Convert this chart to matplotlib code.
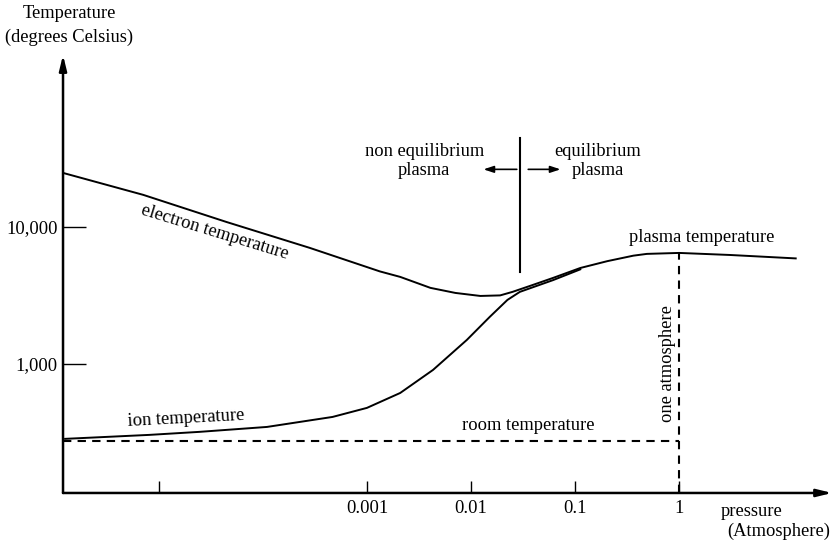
import matplotlib
matplotlib.use('Agg')
import matplotlib.pyplot as plt
import numpy as np

plt.rcParams['font.family'] = ['Liberation Serif', 'DejaVu Serif']

# curves, in log10 units (pressure in atm, temperature in deg C)
electron_logp = [-5.92, -5.15, -4.35, -3.55, -2.875, -2.68, -2.39, -2.15, -1.91, -1.72,
                 -1.60, -1.43, -1.21, -0.95, -0.69, -0.44, -0.31, 0.0, 0.49, 1.12]
electron_logt = [4.394, 4.234, 4.036, 3.847, 3.675, 3.635, 3.555, 3.518, 3.496, 3.50,
                 3.526, 3.57, 3.628, 3.70, 3.75, 3.79, 3.803, 3.81, 3.795, 3.77]
ion_logp = [-5.90, -5.09, -4.61, -3.96, -3.33, -3.0, -2.68, -2.365, -2.04, -1.82,
            -1.65, -1.53, -1.21, -0.95]
ion_logt = [2.453, 2.482, 2.504, 2.54, 2.613, 2.679, 2.788, 2.956, 3.175, 3.343,
            3.467, 3.526, 3.612, 3.69]

room_temp = 275
one_atm = 1.0
plasma_peak = 10 ** 3.81
boundary_p = 10 ** -1.53

xticks = [1e-5, 1e-3, 1e-2, 1e-1, 1]
xticklabels = ['', '0.001', '0.01', '0.1', '1']
yticks = [1e3, 1e4]
yticklabels = ['1,000', '10,000']

fig = plt.figure(figsize=(8.38, 5.44), dpi=100)
ax = fig.add_axes([0.0752, 0.0938, 0.993 - 0.0752, 0.899 - 0.0938])
ax.set_xscale('log')
ax.set_yscale('log')
ax.set_xlim(10 ** -5.92, 10 ** 1.47)
ax.set_ylim(10 ** 2.058, 10 ** 5.255)
for s in ax.spines.values():
    s.set_visible(False)

# axes with arrow heads
ax.annotate('', xy=(1, 0), xytext=(0, 0), xycoords='axes fraction',
            arrowprops=dict(arrowstyle='-|>,head_length=0.9,head_width=0.22', lw=1.8, color='k',
                            shrinkA=0, shrinkB=0))
ax.annotate('', xy=(0, 1), xytext=(0, 0), xycoords='axes fraction',
            arrowprops=dict(arrowstyle='-|>,head_length=0.9,head_width=0.22', lw=1.8, color='k',
                            shrinkA=0, shrinkB=0))

fs = 13.3
ax.set_xticks(xticks)
ax.set_xticklabels(xticklabels)
ax.set_yticks(yticks)
ax.set_yticklabels(yticklabels)
ax.minorticks_off()
ax.tick_params(axis='x', direction='in', length=8.5, width=1.0, pad=5, labelsize=fs)
ax.tick_params(axis='y', direction='in', length=16.5, width=1.0, pad=4, labelsize=fs)

ep = 10 ** np.array(electron_logp)
et = 10 ** np.array(electron_logt)
ip = 10 ** np.array(ion_logp)
it = 10 ** np.array(ion_logt)
ax.plot(ep, et, color='k', lw=1.4, solid_joinstyle='round')
ax.plot(ip, it, color='k', lw=1.4, solid_joinstyle='round')

# room temperature and one atmosphere
ax.plot([10 ** -5.92, one_atm], [room_temp, room_temp], color='k', lw=1.5, ls=(0, (4, 3)))
ax.plot([one_atm, one_atm], [10 ** 2.058, plasma_peak], color='k', lw=1.5, ls=(0, (4, 3)))

# equilibrium boundary
ax.plot([boundary_p, boundary_p], [10 ** 3.67, 10 ** 4.65], color='k', lw=1.5)
ax.annotate('', xy=(10 ** -1.88, 10 ** 4.42), xytext=(10 ** -1.56, 10 ** 4.42),
            arrowprops=dict(arrowstyle='-|>,head_length=0.6,head_width=0.2', lw=1.2, color='k',
                            shrinkA=0, shrinkB=0))
ax.annotate('', xy=(10 ** -1.14, 10 ** 4.42), xytext=(10 ** -1.45, 10 ** 4.42),
            arrowprops=dict(arrowstyle='-|>,head_length=0.6,head_width=0.2', lw=1.2, color='k',
                            shrinkA=0, shrinkB=0))

ax.text(10 ** -2.45, 10 ** 4.48, 'non equilibrium\nplasma', ha='center', va='center',
        fontsize=fs, linespacing=1.1)
ax.text(10 ** -0.78, 10 ** 4.48, 'equilibrium\nplasma', ha='center', va='center',
        fontsize=fs, linespacing=1.1)
ax.text(10 ** 0.22, 10 ** 3.92, 'plasma temperature', ha='center', va='center', fontsize=fs)
ax.text(10 ** -4.46, 10 ** 3.964, 'electron temperature', ha='center', va='center',
        fontsize=fs, rotation=-17)
ax.text(10 ** -4.74, 10 ** 2.6, 'ion temperature', ha='center', va='center',
        fontsize=fs, rotation=3)
ax.text(10 ** -1.45, 10 ** 2.55, 'room temperature', ha='center', va='center', fontsize=fs)
ax.text(10 ** -0.11, 10 ** 3.0, 'one atmosphere', ha='center', va='center',
        fontsize=fs, rotation=90)

fig.text(69 / 838, 1 - 13 / 544, 'Temperature', ha='center', va='center', fontsize=fs)
fig.text(69 / 838, 1 - 37 / 544, '(degrees Celsius)', ha='center', va='center', fontsize=fs)
fig.text(752 / 838, 1 - 511 / 544, 'pressure', ha='center', va='center', fontsize=fs)
fig.text(779 / 838, 1 - 531 / 544, '(Atmosphere)', ha='center', va='center', fontsize=fs)

fig.savefig('out.png', dpi=100)
